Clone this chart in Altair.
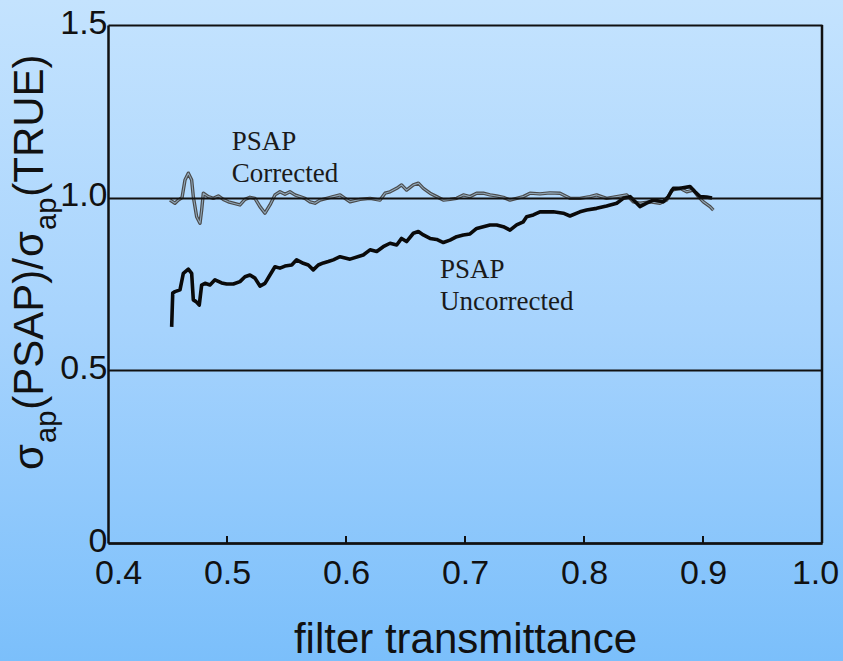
import altair as alt
import pandas as pd

# ---------------- data ----------------
x_tick_values = [0.4, 0.5, 0.6, 0.7, 0.8, 0.9, 1.0]
inner_ticks = [0.5, 0.6, 0.7, 0.8, 0.9]
frame_right = [1.0]
y_tick_values = [0, 0.5, 1.0, 1.5]

corr_x = [0.4521, 0.4563, 0.4591, 0.4622, 0.4647, 0.4675, 0.4703, 0.4717, 0.4745, 0.4773,
          0.4787, 0.4801, 0.4843, 0.4885, 0.4927, 0.4969, 0.5011, 0.5053, 0.5109, 0.5151,
          0.5193, 0.5235, 0.5277, 0.5319, 0.5361, 0.5403, 0.5445, 0.5487, 0.5529, 0.5571,
          0.5613, 0.5655, 0.5697, 0.5739, 0.5782, 0.5838, 0.5893, 0.5950, 0.6034, 0.6118,
          0.6202, 0.6286, 0.6328, 0.6370, 0.6426, 0.6467, 0.6509, 0.6566, 0.6608, 0.6650,
          0.6706, 0.6762, 0.6818, 0.6874, 0.6930, 0.6986, 0.7042, 0.7098, 0.7154, 0.7210,
          0.7266, 0.7322, 0.7378, 0.7434, 0.7490, 0.7546, 0.7630, 0.7714, 0.7798, 0.7882,
          0.7966, 0.8050, 0.8106, 0.8190, 0.8275, 0.8359, 0.8414, 0.8470, 0.8555, 0.8639,
          0.8695, 0.8737, 0.8807, 0.8863, 0.8918, 0.8961, 0.9003, 0.9059, 0.9087]
corr_y = [0.993, 0.984, 0.993, 1.000, 1.051, 1.071, 1.051, 1.003, 0.945, 0.926,
          0.964, 1.013, 1.003, 0.998, 1.005, 0.995, 0.988, 0.984, 0.979, 0.995,
          1.001, 0.998, 0.974, 0.955, 0.979, 1.008, 1.017, 1.010, 1.017, 1.008,
          1.003, 0.998, 0.988, 0.984, 0.993, 0.998, 1.003, 1.008, 0.988, 0.995,
          0.998, 0.993, 1.013, 1.017, 1.027, 1.037, 1.022, 1.037, 1.042, 1.027,
          1.013, 1.003, 0.993, 0.995, 0.998, 1.008, 1.003, 1.013, 1.013, 1.008,
          1.005, 1.001, 0.993, 0.998, 1.003, 1.013, 1.011, 1.014, 1.013, 0.998,
          0.998, 1.003, 1.008, 0.998, 1.003, 1.008, 0.988, 0.984, 0.988, 0.984,
          0.993, 1.022, 1.027, 1.017, 1.022, 1.003, 0.988, 0.974, 0.964]

unc_x = [0.4535, 0.4544, 0.4563, 0.4605, 0.4633, 0.4675, 0.4703, 0.4717, 0.4740, 0.4767,
         0.4787, 0.4815, 0.4857, 0.4899, 0.4955, 0.4997, 0.5053, 0.5109, 0.5151, 0.5193,
         0.5235, 0.5277, 0.5319, 0.5361, 0.5403, 0.5445, 0.5487, 0.5544, 0.5585, 0.5641,
         0.5683, 0.5725, 0.5767, 0.5810, 0.5851, 0.5893, 0.5950, 0.6034, 0.6145, 0.6202,
         0.6258, 0.6313, 0.6370, 0.6426, 0.6467, 0.6509, 0.6566, 0.6608, 0.6650, 0.6706,
         0.6762, 0.6818, 0.6874, 0.6930, 0.6986, 0.7042, 0.7098, 0.7154, 0.7210, 0.7266,
         0.7322, 0.7378, 0.7434, 0.7490, 0.7518, 0.7574, 0.7630, 0.7742, 0.7826, 0.7882,
         0.7966, 0.8022, 0.8106, 0.8190, 0.8275, 0.8330, 0.8387, 0.8443, 0.8470, 0.8526,
         0.8582, 0.8666, 0.8708, 0.8750, 0.8807, 0.8891, 0.8933, 0.8975, 0.9030, 0.9076]
unc_y = [0.626, 0.724, 0.728, 0.733, 0.781, 0.793, 0.781, 0.704, 0.699, 0.689,
         0.747, 0.752, 0.747, 0.762, 0.753, 0.750, 0.750, 0.757, 0.771, 0.776,
         0.767, 0.744, 0.752, 0.776, 0.800, 0.796, 0.802, 0.805, 0.820, 0.810,
         0.805, 0.791, 0.805, 0.811, 0.815, 0.820, 0.829, 0.822, 0.834, 0.849,
         0.844, 0.858, 0.868, 0.863, 0.882, 0.873, 0.897, 0.902, 0.892, 0.882,
         0.879, 0.870, 0.877, 0.887, 0.892, 0.895, 0.911, 0.916, 0.921, 0.921,
         0.916, 0.906, 0.921, 0.930, 0.945, 0.950, 0.959, 0.959, 0.955, 0.947,
         0.959, 0.964, 0.969, 0.976, 0.984, 0.998, 1.003, 0.984, 0.974, 0.984,
         0.993, 0.988, 1.003, 1.027, 1.027, 1.032, 1.017, 1.003, 1.002, 0.999]

ann_text = ["PSAP\nCorrected", "PSAP\nUncorrected"]
ann_x = [0.504, 0.679]
ann_y = [1.138, 0.767]

x_title = "filter transmittance"
# y title pieces: (text, is_subscript)
y_title_parts = [("σ", False), ("ap", True), ("(PSAP)/", False), ("σ", False), ("ap", True), ("(TRUE)", False)]

# ---------------- layout ----------------
W, H = 714, 518
PAD = {"left": 108, "top": 25, "right": 21, "bottom": 118}
INK = "#111111"
SANS = "Liberation Sans"
SERIF = "Liberation Serif"

xs = alt.Scale(domain=[0.4, 1.0], nice=False, zero=False)
ys = alt.Scale(domain=[0, 1.5], nice=False, zero=False)

corr_df = pd.DataFrame({"x": corr_x, "y": corr_y, "i": range(len(corr_x))})
unc_df = pd.DataFrame({"x": unc_x, "y": unc_y, "i": range(len(unc_x))})
ann_df = pd.DataFrame({"x": ann_x, "y": ann_y, "label": ann_text})
tick_df = pd.DataFrame({"x": inner_ticks})
frame_df = pd.DataFrame({"x": frame_right})
one = pd.DataFrame({"k": [0]})

gradient = alt.LinearGradient(
    gradient="linear",
    stops=[alt.GradientStop(color="#c4e3fe", offset=0),
           alt.GradientStop(color="#a6d3fd", offset=0.5),
           alt.GradientStop(color="#7bbffb", offset=1)],
    x1=0, x2=0, y1=0, y2=1,
)

bg = alt.Chart(one).mark_rect(fill=gradient).encode(
    x=alt.value(-PAD["left"]), x2=alt.value(W + PAD["right"]),
    y=alt.value(-PAD["top"]), y2=alt.value(H + PAD["bottom"]),
)

x_axis = alt.Axis(
    values=x_tick_values, format=".1f", title=x_title, grid=False,
    ticks=False, tickSize=0, labelPadding=13, labelFontSize=34, labelFont=SANS,
    labelColor=INK, domainColor=INK, domainWidth=2.5, titleFontSize=42,
    titleFont=SANS, titleFontWeight="normal", titleColor=INK, titlePadding=29,
    labelFlush=False, labelOverlap=False, zindex=1,
    labelOffset={"condition": [{"test": "datum.value <= 0.4", "value": 10},
                               {"test": "datum.value >= 1", "value": -7}], "value": 0},
)
y_axis = alt.Axis(
    values=y_tick_values, labelExpr="datum.value == 0 ? '0' : format(datum.value, '.1f')",
    title="", grid=True, gridColor=INK, gridWidth=2, gridOpacity=1,
    ticks=False, tickSize=0, labelPadding=1, labelFontSize=34, labelFont=SANS,
    labelColor=INK, domainColor=INK, domainWidth=2.5, labelFlush=False,
    labelOverlap=False, labelBaseline="middle", labelOffset=-2, zindex=1,
)

X = lambda: alt.X("x:Q", scale=xs, axis=x_axis)
Y = lambda: alt.Y("y:Q", scale=ys, axis=y_axis)

ticks = alt.Chart(tick_df).mark_rule(color=INK, strokeWidth=2).encode(
    x=X(), y=alt.value(H), y2=alt.value(H - 7),
)
frame = alt.Chart(frame_df).mark_rule(color=INK, strokeWidth=2.5).encode(
    x=X(), y=alt.value(0), y2=alt.value(H),
)

# corrected curve: dark outline with a pale core, like the scanned hollow trace
corr_outer = alt.Chart(corr_df).mark_line(color="#4a4a4a", strokeWidth=3.4, strokeJoin="round").encode(
    x=X(), y=Y(), order="i:Q",
)
corr_inner = alt.Chart(corr_df).mark_line(color="#8fa6b8", strokeWidth=1.1, strokeJoin="round").encode(
    x=X(), y=Y(), order="i:Q",
)

unc = alt.Chart(unc_df).mark_line(color="#0a0a0a", strokeWidth=3.6, strokeJoin="round").encode(
    x=X(), y=Y(), order="i:Q",
)

ann = alt.Chart(ann_df).mark_text(
    font=SERIF, fontSize=27, color="#1a1a1a", align="left", baseline="alphabetic",
    lineBreak="\n", lineHeight=32,
).encode(x=X(), y=Y(), text="label:N")

# y-axis title built from pieces so that "ap" can be a real subscript
ARIAL = {"(": 0.333, ")": 0.333, "P": 0.667, "S": 0.667, "A": 0.667, "/": 0.278,
         "T": 0.611, "R": 0.722, "U": 0.722, "E": 0.667, "a": 0.556, "p": 0.556, "σ": 0.62}
F_MAIN, F_SUB = 42, 29
X_MAIN, X_SUB = 43 - PAD["left"], 56 - PAD["left"]
pos = 470 - PAD["top"]
title_layers = []
for txt, sub in y_title_parts:
    fs = F_SUB if sub else F_MAIN
    title_layers.append(
        alt.Chart(one).mark_text(
            text=txt, font=SANS, fontSize=fs, color=INK, angle=270,
            align="left", baseline="alphabetic",
        ).encode(x=alt.value(X_SUB if sub else X_MAIN), y=alt.value(pos))
    )
    pos -= sum(ARIAL.get(c, 0.6) for c in txt) * fs + 1

chart = alt.layer(bg, ticks, frame, corr_outer, corr_inner, unc, ann, *title_layers).properties(
    width=W, height=H,
    autosize=alt.AutoSizeParams(type="none"),
    padding=PAD,
).configure_view(
    stroke=None,
).configure(background="#a6d3fd")

chart.save("out.html", embed_options={"renderer": "svg", "actions": False})
